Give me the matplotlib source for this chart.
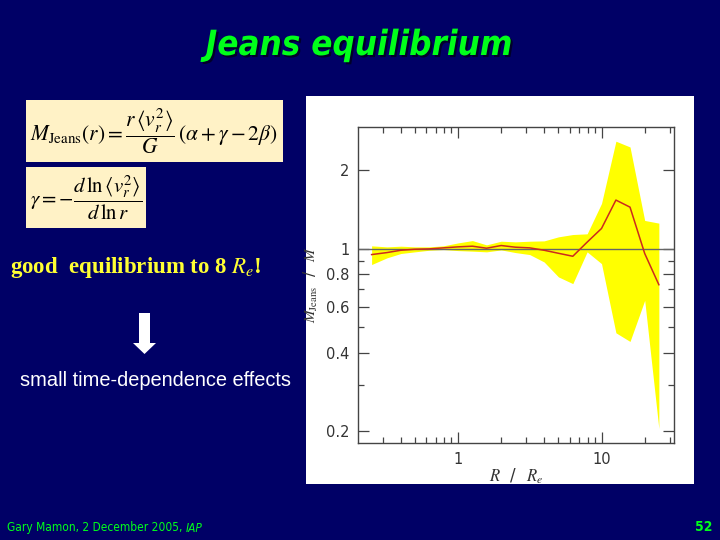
import matplotlib
matplotlib.use('Agg')
import matplotlib.pyplot as plt
import matplotlib.patheffects as pe
from matplotlib.patches import Rectangle, Polygon
from matplotlib.ticker import FixedLocator, FixedFormatter, NullFormatter

plt.rcParams['mathtext.fontset'] = 'stix'

# radius in units of R_e
r = [0.25, 0.32, 0.40, 0.50, 0.63, 0.79, 1.0, 1.26, 1.58, 2.0, 2.51,
     3.16, 3.98, 5.01, 6.31, 7.94, 10.0, 12.6, 15.8, 20.0, 25.1]
# M_Jeans / M (median)
ratio = [0.951, 0.968, 0.988, 0.997, 1.0, 1.009, 1.018, 1.024, 1.006, 1.03, 1.015,
         1.009, 0.988, 0.962, 0.937, 1.061, 1.197, 1.538, 1.445, 0.960, 0.729]
upper = [1.027, 1.018, 1.024, 1.018, 1.018, 1.027, 1.054, 1.076, 1.036, 1.070, 1.064,
         1.070, 1.073, 1.112, 1.135, 1.142, 1.493, 2.585, 2.457, 1.285, 1.255]
lower = [0.871, 0.924, 0.960, 0.974, 0.988, 0.994, 0.985, 0.980, 0.974, 0.991, 0.968,
         0.951, 0.891, 0.781, 0.736, 0.974, 0.878, 0.477, 0.442, 0.635, 0.205]

xticks = [1, 10]
xticklabels = ['1', '10']
yticks = [0.2, 0.4, 0.6, 0.8, 1, 2]
yticklabels = ['0.2', '0.4', '0.6', '0.8', '1', '2']
yminor = [0.3, 0.5, 0.7, 0.9]

bg = '#000066'
W, H = 720, 540

fig = plt.figure(figsize=(7.2, 5.4), dpi=100, facecolor=bg)

def px(x, y):
    return (x / W, 1 - y / H)

# title
fig.text(0.499, px(0, 45)[1], 'Jeans equilibrium', color='#00ff1a', fontsize=25,
         fontweight='bold', fontstyle='italic', fontstretch='condensed', ha='center', va='center',
         family=['DejaVu Sans'],
         path_effects=[pe.withSimplePatchShadow(offset=(1.5, -1.5), shadow_rgbFace='black', alpha=0.6)])

# formula boxes
fig.patches.append(Rectangle(px(26, 162), 257 / W, 62 / H, facecolor='#fff2c6',
                             edgecolor='none', transform=fig.transFigure, figure=fig))
fig.patches.append(Rectangle(px(26, 228), 120 / W, 61 / H, facecolor='#fff2c6',
                             edgecolor='none', transform=fig.transFigure, figure=fig))
fig.text(*px(154, 131), r'$M_{\rm Jeans}(r) = \dfrac{r\,\langle v_r^2\rangle}{G}\,(\alpha + \gamma - 2\beta)$',
         fontsize=15.5, color='black', ha='center', va='center')
fig.text(*px(86, 198), r'$\gamma = -\dfrac{d\,\ln\langle v_r^2\rangle}{d\,\ln r}$',
         fontsize=15, color='black', ha='center', va='center')

fig.text(*px(10, 267), r'good  equilibrium to 8 $R_e$!', color='#ffff33', fontsize=16.5,
         fontweight='bold', family=['Liberation Serif', 'DejaVu Serif'], ha='left', va='center')

# down arrow
arrow = [(139, 313), (150, 313), (150, 343), (156, 343), (144.5, 354), (133, 343), (139, 343)]
fig.patches.append(Polygon([px(a, b) for a, b in arrow], closed=True, facecolor='white',
                           edgecolor='none', transform=fig.transFigure, figure=fig))

fig.text(*px(20, 381), 'small time-dependence effects', color='white', fontsize=14.4,
         family=['Liberation Sans', 'DejaVu Sans'], ha='left', va='center')

# plot panel
fig.patches.append(Rectangle(px(306, 484), 388 / W, 388 / H, facecolor='white',
                             edgecolor='none', transform=fig.transFigure, figure=fig, zorder=-1))

ax = fig.add_axes([357.7 / W, 1 - 443.3 / H, (674 - 357.7) / W, (443.3 - 127) / H])
ax.set_facecolor('white')
ax.fill_between(r, lower, upper, color='#ffff00', lw=0, zorder=1)
ax.axhline(1, color='#666666', lw=1, zorder=2)
ax.plot(r, ratio, color='#cc2a1e', lw=1.1, zorder=3)

ax.set_xscale('log')
ax.set_yscale('log')
ax.set_xlim(0.2, 32)
ax.set_ylim(0.18, 2.93)

ax.xaxis.set_major_locator(FixedLocator(xticks))
ax.xaxis.set_major_formatter(FixedFormatter(xticklabels))
ax.xaxis.set_minor_locator(FixedLocator([0.3, 0.4, 0.5, 0.6, 0.7, 0.8, 0.9,
                                         2, 3, 4, 5, 6, 7, 8, 9, 20, 30]))
ax.xaxis.set_minor_formatter(NullFormatter())
ax.yaxis.set_major_locator(FixedLocator(yticks))
ax.yaxis.set_major_formatter(FixedFormatter(yticklabels))
ax.yaxis.set_minor_locator(FixedLocator(yminor))
ax.yaxis.set_minor_formatter(NullFormatter())

ax.tick_params(which='both', direction='in', top=True, right=True, color='#444444',
               labelcolor='#333333', labelsize=10.5, width=0.9)
ax.tick_params(which='major', length=8, pad=6)
ax.tick_params(which='minor', length=4)
for s in ax.spines.values():
    s.set_color('#444444')
    s.set_linewidth(1)

ax.set_xlabel(r'$R$  /  $R_e$', fontsize=12, color='#333333', labelpad=0)
ax.set_ylabel(r'$M_{\rm Jeans}$  /  $M$', fontsize=11, color='#333333', labelpad=4)

# footer
foot = fig.text(*px(7, 527), 'Gary Mamon, 2 December 2005, ', color='#00ff1a', fontsize=8.6,
                fontstretch='condensed', family=['DejaVu Sans'], ha='left', va='center')
ax.annotate('IAP', xy=(1, 0), xycoords=foot, xytext=(0, -1.2), textcoords='offset points',
            va='bottom', ha='left', color='#00ff1a',
            fontsize=8.6, fontstyle='italic', fontstretch='condensed', family=['DejaVu Sans'],
            annotation_clip=False)
fig.text(*px(712, 527), '52', color='#00ff1a', fontsize=10, fontweight='bold',
         fontstretch='condensed', family=['DejaVu Sans'], ha='right', va='center')

fig.savefig('out.png', dpi=100, facecolor=bg)
